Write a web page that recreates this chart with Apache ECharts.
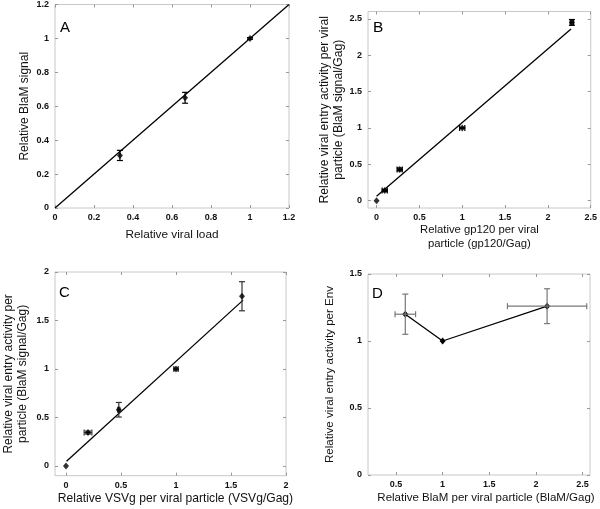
<!DOCTYPE html>
<html><head><meta charset="utf-8">
<script src="https://cdn.jsdelivr.net/npm/echarts@6/dist/echarts.min.js"></script>
<style>html,body{margin:0;padding:0;background:#fff}#c{width:600px;height:509px}</style>
</head><body><div id="c"></div><script>
// ---- Panel A ----
const aX = [0.333, 0.667, 1.0];
const aY = [0.31, 0.65, 1.0];
const aXErr = [0, 0, 0];
const aYErr = [0.03, 0.032, 0.005];
const aFitX = [0, 1.2];
const aFitY = [0, 1.2];
const aXTicks = [0, 0.2, 0.4, 0.6, 0.8, 1, 1.2];
const aYTicks = [0, 0.2, 0.4, 0.6, 0.8, 1, 1.2];
// ---- Panel B ----
const bX = [0, 0.095, 0.27, 1.0, 2.28];
const bY = [0, 0.14, 0.43, 1.0, 2.45];
const bXErr = [0, 0.03, 0.03, 0.03, 0.02];
const bYErr = [0, 0.015, 0.02, 0.008, 0.04];
const bFitX = [0, 2.27];
const bFitY = [0.06, 2.36];
const bXTicks = [0, 0.5, 1, 1.5, 2, 2.5];
const bYTicks = [0, 0.5, 1, 1.5, 2, 2.5];
// ---- Panel C ----
const cX = [0, 0.2, 0.48, 1.0, 1.6];
const cY = [0, 0.345, 0.58, 1.0, 1.75];
const cXErr = [0, 0.035, 0.01, 0.02, 0];
const cYErr = [0, 0.015, 0.075, 0.01, 0.15];
const cFitX = [0.005, 1.61];
const cFitY = [0.05, 1.71];
const cXTicks = [0, 0.5, 1, 1.5, 2];
const cYTicks = [0, 0.5, 1, 1.5, 2];
// ---- Panel D ----
const dX = [0.6, 1.0, 2.12];
const dY = [1.2, 1.0, 1.26];
const dXErr = [0.11, 0, 0.425];
const dYErr = [0.15, 0, 0.13];
const dXTicks = [0.5, 1, 1.5, 2, 2.5];
const dYTicks = [0, 0.5, 1, 1.5];

const FONT = 'Liberation Sans';
const grids = [
  {left: 55, top: 4, width: 234, height: 204},
  {left: 368, top: 11.5, width: 225, height: 196.5},
  {left: 55, top: 272, width: 231, height: 203.7},
  {left: 368, top: 274, width: 222, height: 201}
];
const ranges = [
  {x: [0, 1.2], y: [0, 1.2]},
  {x: [-0.1, 2.5], y: [-0.1, 2.6]},
  {x: [-0.1, 2], y: [-0.1, 2]},
  {x: [0.2, 2.58], y: [0, 1.5]}
];
const ticks = [[aXTicks, aYTicks], [bXTicks, bYTicks], [cXTicks, cYTicks], [dXTicks, dYTicks]];
const xNames = ['Relative viral load', 'Relative gp120 per viral\nparticle (gp120/Gag)',
  'Relative VSVg per viral particle (VSVg/Gag)', 'Relative BlaM per viral particle (BlaM/Gag)'];
const yNames = ['Relative BlaM signal', 'Relative viral entry activity per viral\nparticle (BlaM signal/Gag)',
  'Relative viral entry activity per\nparticle (BlaM signal/Gag)', 'Relative viral entry activity per Env'];
const xGaps = [20, 15, 16, 16];
const yGaps = [23, 21, 25, 31];
const xNameSize = [11.8, 11.3, 12.1, 11.5];
const yNameSize = [12, 12.2, 12, 11.6];
const xNamePad = [[0, 0, 0, 0], [0, 0, 0, 0], [0, 0, 0, 10], [0, 0, 0, 14]];

const xAxis = [], yAxis = [];
grids.forEach((g, i) => {
  const tickStyle = {show: true, inside: true, length: 3, lineStyle: {color: '#999'}, customValues: ticks[i][0]};
  const tickStyleY = {show: true, inside: true, length: 3, lineStyle: {color: '#999'}, customValues: ticks[i][1]};
  const noLine = {show: false, onZero: false};
  const lbl = {fontFamily: FONT, fontSize: 9, fontWeight: 'bold', color: '#111'};
  xAxis.push({
    type: 'value', gridIndex: i, position: 'bottom', min: ranges[i].x[0], max: ranges[i].x[1],
    axisLine: noLine, splitLine: {show: false}, axisTick: tickStyle,
    axisLabel: Object.assign({customValues: ticks[i][0], margin: 5}, lbl),
    name: xNames[i], nameLocation: 'middle', nameGap: xGaps[i],
    nameTextStyle: {fontFamily: FONT, fontSize: xNameSize[i], color: '#111', lineHeight: 14, padding: xNamePad[i]}
  });
  xAxis.push({
    type: 'value', gridIndex: i, position: 'top', min: ranges[i].x[0], max: ranges[i].x[1],
    axisLine: noLine, splitLine: {show: false}, axisTick: tickStyle, axisLabel: {show: false}
  });
  yAxis.push({
    type: 'value', gridIndex: i, position: 'left', min: ranges[i].y[0], max: ranges[i].y[1],
    axisLine: noLine, splitLine: {show: false}, axisTick: tickStyleY,
    axisLabel: Object.assign({customValues: ticks[i][1], margin: 6}, lbl),
    name: yNames[i], nameLocation: 'middle', nameGap: yGaps[i],
    nameTextStyle: {fontFamily: FONT, fontSize: yNameSize[i], color: '#111', lineHeight: 14}
  });
  yAxis.push({
    type: 'value', gridIndex: i, position: 'right', min: ranges[i].y[0], max: ranges[i].y[1],
    axisLine: noLine, splitLine: {show: false}, axisTick: tickStyleY, axisLabel: {show: false}
  });
});

function errSeries(idx, xs, ys, xe, ye, color) {
  return {
    type: 'custom', xAxisIndex: idx * 2, yAxisIndex: idx * 2, z: 3,
    data: xs.map((x, k) => [x, ys[k], xe[k], ye[k]]),
    renderItem: function (params, api) {
      const x = api.value(0), y = api.value(1), ex = api.value(2), ey = api.value(3);
      const children = [];
      const st = {stroke: color, lineWidth: 1.2};
      const cap = 3;
      if (ey > 0) {
        const t = api.coord([x, y + ey]), b = api.coord([x, y - ey]);
        children.push({type: 'line', shape: {x1: t[0], y1: t[1], x2: b[0], y2: b[1]}, style: st});
        children.push({type: 'line', shape: {x1: t[0] - cap, y1: t[1], x2: t[0] + cap, y2: t[1]}, style: st});
        children.push({type: 'line', shape: {x1: b[0] - cap, y1: b[1], x2: b[0] + cap, y2: b[1]}, style: st});
      }
      if (ex > 0) {
        const l = api.coord([x - ex, y]), r = api.coord([x + ex, y]);
        children.push({type: 'line', shape: {x1: l[0], y1: l[1], x2: r[0], y2: r[1]}, style: st});
        children.push({type: 'line', shape: {x1: l[0], y1: l[1] - cap, x2: l[0], y2: l[1] + cap}, style: st});
        children.push({type: 'line', shape: {x1: r[0], y1: r[1] - cap, x2: r[0], y2: r[1] + cap}, style: st});
      }
      return {type: 'group', children: children};
    }
  };
}
function pts(idx, xs, ys) {
  return {type: 'scatter', xAxisIndex: idx * 2, yAxisIndex: idx * 2, symbol: 'diamond', symbolSize: [6, 7],
    itemStyle: {color: '#000'}, z: 4, data: xs.map((x, k) => [x, ys[k]])};
}
function fit(idx, xs, ys, withSym) {
  return {type: 'line', xAxisIndex: idx * 2, yAxisIndex: idx * 2, symbol: withSym ? 'diamond' : 'none',
    symbolSize: [6, 7], itemStyle: {color: '#000'}, lineStyle: {color: '#000', width: 1.3}, z: 2,
    data: xs.map((x, k) => [x, ys[k]])};
}

const option = {
  animation: false,
  backgroundColor: '#fff',
  grid: grids.map(g => Object.assign({show: true, borderColor: '#c8c8c8', borderWidth: 1, containLabel: false}, g)),
  xAxis: xAxis, yAxis: yAxis,
  graphic: [
    {type: 'text', left: 60, top: 20, style: {text: 'A', font: '15px "Liberation Sans"', fill: '#000'}},
    {type: 'text', left: 373, top: 20, style: {text: 'B', font: '15.5px "Liberation Sans"', fill: '#000'}},
    {type: 'text', left: 59, top: 285, style: {text: 'C', font: '15px "Liberation Sans"', fill: '#000'}},
    {type: 'text', left: 372, top: 286, style: {text: 'D', font: '15px "Liberation Sans"', fill: '#000'}}
  ],
  series: [
    fit(0, aFitX, aFitY, false), errSeries(0, aX, aY, aXErr, aYErr, '#000'), pts(0, aX, aY),
    fit(1, bFitX, bFitY, false), errSeries(1, bX, bY, bXErr, bYErr, '#000'), pts(1, bX, bY),
    fit(2, cFitX, cFitY, false), errSeries(2, cX, cY, cXErr, cYErr, '#333'), pts(2, cX, cY),
    errSeries(3, dX, dY, dXErr, dYErr, '#777'), fit(3, dX, dY, true)
  ]
};
const chart = echarts.init(document.getElementById('c'), null, {renderer: 'canvas'});
chart.setOption(option);
</script></body></html>
